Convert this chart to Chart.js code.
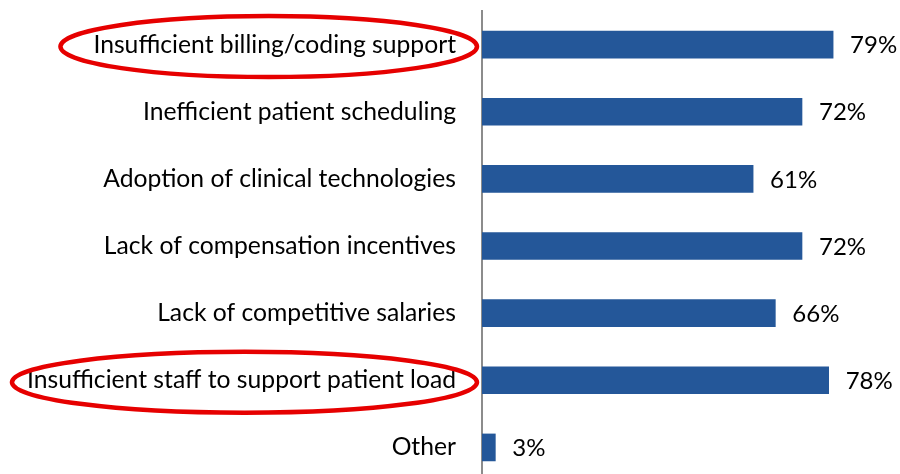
<!DOCTYPE html>
<html>
<head>
<meta charset="utf-8">
<script src="https://cdn.jsdelivr.net/npm/chart.js@4.4.1/dist/chart.umd.min.js"></script>
<style>
  html, body { margin: 0; padding: 0; background: #fff; overflow: hidden; }
  #wrap { width: 900px; height: 481px; position: relative; }
</style>
</head>
<body>
<div id="wrap"><canvas id="chart"></canvas></div>
<script>
const categories = [
  "Insufficient billing/coding support",
  "Inefficient patient scheduling",
  "Adoption of clinical technologies",
  "Lack of compensation incentives",
  "Lack of competitive salaries",
  "Insufficient staff to support patient load",
  "Other"
];
const percentValues = [79, 72, 61, 72, 66, 78, 3];
// categories that are circled in red
const circled = [0, 5];

const FONT = "Lato, 'DejaVu Sans', sans-serif";
const LABEL_SIZE = 24.7;
const VALUE_SIZE = 24;

// writes "79%" etc. just after each bar
const valueLabels = {
  id: "valueLabels",
  afterDatasetsDraw(chart) {
    const ctx = chart.ctx;
    const meta = chart.getDatasetMeta(0);
    ctx.save();
    ctx.font = VALUE_SIZE + "px " + FONT;
    ctx.fillStyle = "#000";
    ctx.textAlign = "left";
    ctx.textBaseline = "middle";
    meta.data.forEach((bar, i) => {
      ctx.fillText(percentValues[i] + "%", bar.x + 17, bar.y + 1);
    });
    ctx.restore();
  }
};

// red ellipses round some of the category labels
const labelCircles = {
  id: "labelCircles",
  afterDraw(chart) {
    const ctx = chart.ctx;
    const yScale = chart.scales.y;
    const labelRight = chart.chartArea.left - yScale.options.ticks.padding;
    ctx.save();
    ctx.font = LABEL_SIZE + "px " + FONT;
    ctx.strokeStyle = "#e60000";
    ctx.lineWidth = 4.5;
    circled.forEach((i, n) => {
      const w = ctx.measureText(categories[i]).width;
      const padLeft = n === 0 ? 33 : 15;
      const left = labelRight - w - padLeft;
      const right = chart.chartArea.left - 5;
      const cy = yScale.getPixelForValue(i) + 2;
      ctx.beginPath();
      ctx.ellipse((left + right) / 2, cy, (right - left) / 2, 30.5, 0, 0, Math.PI * 2);
      ctx.stroke();
    });
    ctx.restore();
  }
};

new Chart(document.getElementById("chart"), {
  type: "bar",
  data: {
    labels: categories,
    datasets: [{
      data: percentValues,
      backgroundColor: "#245799",
      borderWidth: 0,
      barThickness: 27
    }]
  },
  options: {
    indexAxis: "y",
    responsive: true,
    maintainAspectRatio: false,
    animation: false,
    layout: { padding: { top: 11, right: 18, bottom: 0, left: 0 } },
    plugins: {
      legend: { display: false },
      tooltip: { enabled: false }
    },
    scales: {
      x: {
        display: false,
        min: 0,
        max: 90
      },
      y: {
        afterFit(scale) {
          scale.width = 482;
          scale.paddingTop = 0;
          scale.paddingBottom = 0;
        },
        grid: { display: false, drawTicks: false },
        border: { display: true, color: "#8c8c8c", width: 2 },
        ticks: {
          padding: 26,
          color: "#000",
          font: { family: FONT, size: LABEL_SIZE }
        }
      }
    }
  },
  plugins: [valueLabels, labelCircles]
});
</script>
</body>
</html>
